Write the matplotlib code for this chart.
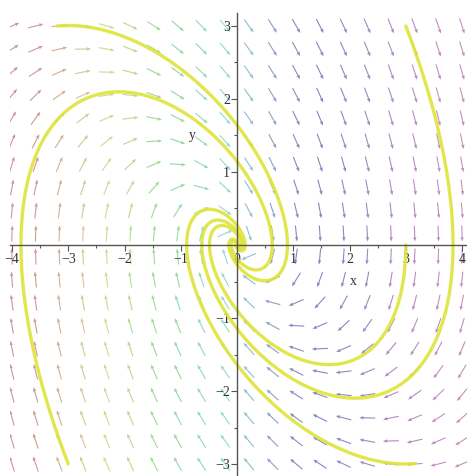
import numpy as np
import matplotlib
matplotlib.use("Agg")
import matplotlib.pyplot as plt
from matplotlib.colors import hsv_to_rgb

plt.rcParams.update({"font.family": "Liberation Serif", "font.size": 10})

# system: x' = y, y' = -x - y
x_range = (-4, 4)
y_range = (-3, 3)
n_grid = 20
# initial conditions for the solution curves (x0, y0)
init_x = [-3.2, -3.0, 3.0, 3.0, 3.0]
init_y = [3.0, -3.0, 3.0, 0.0, -3.0]
t_back = [0.0, 0.0, 0.0, 0.0, 0.06]
x_ticks = [-4, -3, -2, -1, 0, 1, 2, 3, 4]
y_ticks = [-3, -2, -1, 1, 2, 3]

# pixel layout of the reference (x = 0 at px 237, y = 0 at px 245)
px_x, px_y = 56.25, 73.0
W, H = 467, 476


def field(x, y):
    return y, -x - y


def rk4(p, h):
    f = lambda q: np.array(field(q[0], q[1]))
    k1 = f(p); k2 = f(p + h/2*k1); k3 = f(p + h/2*k2); k4 = f(p + h*k3)
    return p + h/6*(k1 + 2*k2 + 2*k3 + k4)


def solve(x0, y0, t0, t1=16.0, dt=0.01):
    p = np.array([x0, y0], dtype=float)
    for _ in range(int(round(t0 / dt))):
        p = rk4(p, -dt)
    pts = [p.copy()]
    for _ in range(int((t1 + t0) / dt)):
        p = rk4(p, dt)
        pts.append(p.copy())
    return np.array(pts)


fig = plt.figure(figsize=(W/100, H/100), dpi=100)
ax = fig.add_axes([10/W, 0, 457/W, 463/H])
ax.set_xlim(-227/px_x, 230/px_x)
ax.set_ylim(-231/px_y, 232/px_y)

# direction field arrows (fixed on-screen length)
gx = np.linspace(x_range[0], x_range[1], n_grid)
gy = np.linspace(y_range[0], y_range[1], n_grid)
X, Y = np.meshgrid(gx, gy)
U, V = field(X, Y)
du, dv = U * px_x, V * px_y
mag = np.hypot(du, dv)
mag[mag == 0] = 1
du, dv = du / mag, dv / mag
hue = np.interp(X, [-4, -3.7, -2.5, -1.3, -0.2, 1.0, 2.5, 4.0],
                [0.96, 1.0, 1.16, 1.33, 1.5, 1.64, 1.76, 1.87]) % 1.0
sat = np.interp(X, [-4, -2, 0, 2, 4], [0.45, 0.5, 0.5, 0.5, 0.45])
val = np.interp(X, [-4, -2, 0, 1, 4], [0.72, 0.8, 0.78, 0.62, 0.68])
cols = hsv_to_rgb(np.stack([hue, sat, val], axis=-1)).reshape(-1, 3)
cols = np.concatenate([cols, np.full((len(cols), 1), 0.7)], axis=1)
L = 16  # arrow length in pixels
ax.quiver(X - du*0.5*L/px_x, Y - dv*0.5*L/px_y, du, dv, color=cols,
          angles='uv', scale_units='inches', scale=100/L,
          units='inches', width=0.011, headwidth=3.2, headlength=4,
          headaxislength=3.6, pivot='tail', zorder=1)

# solution curves
for x0, y0, tb in zip(init_x, init_y, t_back):
    pts = solve(x0, y0, tb)
    ax.plot(pts[:, 0], pts[:, 1], color='#dfe43a', lw=2.4, alpha=0.9,
            solid_capstyle='round', zorder=2)

# axes through the origin, Maple style
for s in ['top', 'right']:
    ax.spines[s].set_visible(False)
ax.spines['left'].set_position(('data', 0))
ax.spines['bottom'].set_position(('data', 0))
for s in ['left', 'bottom']:
    ax.spines[s].set_color('#555555')
    ax.spines[s].set_linewidth(1.0)
    ax.spines[s].set_zorder(3)
ax.set_xticks(x_ticks)
ax.set_yticks(y_ticks)
ax.set_xticks(np.arange(-3.5, 4, 1.0), minor=True)
ax.set_yticks(np.arange(-2.5, 3, 1.0), minor=True)
ax.tick_params(colors='#555555', labelcolor='#333333', labelsize=10,
               length=4, width=0.8)
ax.tick_params(which='minor', length=2.5, width=0.8, colors='#555555')
ax.tick_params(axis='x', pad=2)
ax.tick_params(axis='y', pad=1)
ax.text(2.0, -0.55, 'x', fontsize=10, color='#333333')
ax.text(-0.85, 1.45, 'y', fontsize=10, color='#333333')

fig.savefig('out.png', dpi=100)
